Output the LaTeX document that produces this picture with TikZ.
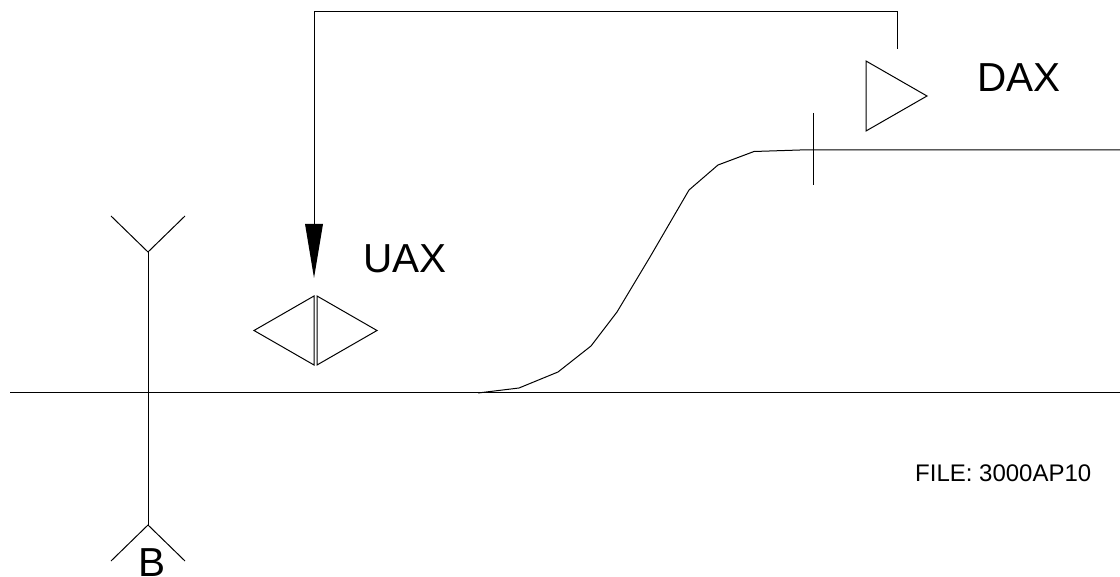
\documentclass[tikz,border=0pt]{standalone}
\usepackage{fontspec}
\setmainfont{Liberation Sans}
\tikzset{
  ln/.style={draw=black,line width=1pt,line join=miter},
  big/.style={inner sep=0pt,anchor=base west,font=\fontsize{40.5}{41}\selectfont},
  small/.style={inner sep=0pt,anchor=base west,font=\fontsize{24}{25}\selectfont}
}
\begin{document}
\begin{tikzpicture}[x=1pt,y=-1pt]
\useasboundingbox (0,0) rectangle (1120,577);
% named points
\coordinate (axisL) at (10,393);
\coordinate (axisR) at (1120,393);
\coordinate (stemT) at (148,252);
\coordinate (stemB) at (148,525);
\coordinate (rootE) at (1120,150);
\coordinate (tickT) at (813,113);
\coordinate (tickB) at (813,185);
\coordinate (daxEnd) at (897,49);
\coordinate (arrowBase) at (314,224);
\coordinate (arrowTip) at (314,278);
% axis and antenna
\draw[ln] (axisL) -- (axisR);
\draw[ln] (stemT) -- (stemB);
\draw[ln] (111,216) -- (stemT) -- (185,216);
\draw[ln] (111,561) -- (stemB) -- (185,561);
% profile curve
\draw[ln] (478,393) -- (519,388) -- (558,372) -- (591,346) -- (617,312) -- (650,257) -- (689,190) -- (718,165) -- (754,151.5) -- (800,150) -- (rootE);
\draw[ln] (tickT) -- (tickB);
% DAX triangle
\draw[ln] (866,61) -- (927,96) -- (866,131) -- cycle;
% UAX diamond
\draw[ln] (314,296) -- (254,330.5) -- (314,365) -- cycle;
\draw[ln] (317,296) -- (377,330.5) -- (317,365) -- cycle;
% leader with arrow
\draw[ln] (daxEnd) -- (897,12) -- (314,12) -- (arrowBase);
\fill[black] (305,224) -- (323,224) -- (arrowTip) -- cycle;
% labels
\node[big] (dax) at (977,92) {DAX};
\node[big] (uax) at (363,273) {UAX};
\node[small] (file) at (915,482) {FILE: 3000AP10};
\node[big] (b) at (138,576) {B};
\end{tikzpicture}
\end{document}
